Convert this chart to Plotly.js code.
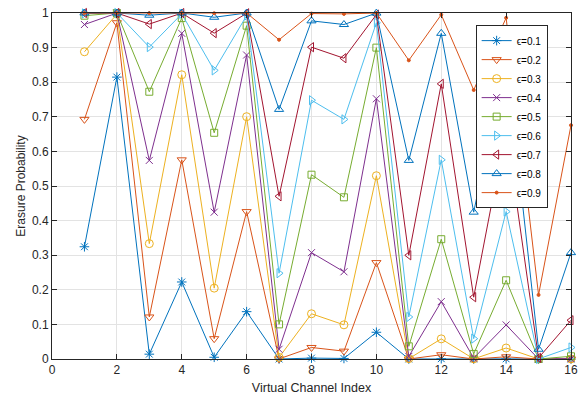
<!DOCTYPE html>
<html><head><meta charset="utf-8">
<script src="https://cdn.plot.ly/plotly-3.0.1.min.js"></script>
<style>html,body{margin:0;padding:0;background:#fff}#chart{width:581px;height:401px}</style>
</head><body><div id="chart"></div>
<script>
const channelIndex = [1,2,3,4,5,6,7,8,9,10,11,12,13,14,15,16];
const epsLabels = ["ϵ=0.1","ϵ=0.2","ϵ=0.3","ϵ=0.4","ϵ=0.5","ϵ=0.6","ϵ=0.7","ϵ=0.8","ϵ=0.9"];
const eps01 = [0.3244,0.8147,0.0140,0.2226,0.0050,0.1368,0.0000,0.0026,0.0016,0.0773,0.0000,0.0008,0.0000,0.0004,0.0000,0.0000];
const eps02 = [0.6926,0.9719,0.1215,0.5756,0.0588,0.4260,0.0003,0.0333,0.0227,0.2786,0.0000,0.0123,0.0000,0.0064,0.0000,0.0000];
const eps03 = [0.8880,0.9967,0.3334,0.8215,0.2048,0.7003,0.0046,0.1307,0.0988,0.5297,0.0009,0.0582,0.0003,0.0318,0.0000,0.0001];
const eps04 = [0.9667,0.9997,0.5740,0.9412,0.4244,0.8785,0.0281,0.3074,0.2521,0.7521,0.0075,0.1658,0.0026,0.0985,0.0000,0.0013];
const eps05 = [0.9922,1.0000,0.7725,0.9853,0.6538,0.9634,0.1001,0.5327,0.4673,0.8999,0.0366,0.3462,0.0147,0.2275,0.0000,0.0078];
const eps06 = [0.9987,1.0000,0.9015,0.9974,0.8342,0.9925,0.2479,0.7479,0.6926,0.9719,0.1215,0.5756,0.0588,0.4260,0.0003,0.0333];
const eps07 = [0.9999,1.0000,0.9680,0.9997,0.9418,0.9991,0.4703,0.9012,0.8693,0.9954,0.2997,0.7952,0.1786,0.6666,0.0033,0.1120];
const eps08 = [1.0000,1.0000,0.9936,1.0000,0.9877,1.0000,0.7214,0.9773,0.9667,0.9997,0.5740,0.9412,0.4244,0.8785,0.0281,0.3074];
const eps09 = [1.0000,1.0000,0.9996,1.0000,0.9992,1.0000,0.9227,0.9984,0.9974,1.0000,0.8632,0.9950,0.7775,0.9860,0.1853,0.6756];
const xTicks = [0,2,4,6,8,10,12,14,16];
const yTicks = [0,0.1,0.2,0.3,0.4,0.5,0.6,0.7,0.8,0.9,1];

const series = [eps01,eps02,eps03,eps04,eps05,eps06,eps07,eps08,eps09];
const colors = ["#0072BD","#D95319","#EDB120","#7E2F8E","#77AC30","#4DBEEE","#A2142F","#0072BD","#D95319"];
const symbols = ["asterisk-open","triangle-down-open","circle-open","x-thin-open","square-open","triangle-right-open","triangle-left-open","triangle-up-open","circle"];
const sizes = [8,8,8,7,7,8,8,8,3];

const traces = series.map((ys,i)=>({
  x: channelIndex, y: ys, name: epsLabels[i], type:"scatter", mode:"lines+markers",
  line:{color:colors[i], width:1},
  marker:{symbol:symbols[i], size:sizes[i], color:colors[i], line:{color:colors[i], width:1}},
  cliponaxis:false
}));

const FONT = "Liberation Sans, Arial, sans-serif";
const axisCommon = {
  showline:true, linecolor:"#262626", linewidth:1, mirror:"ticks",
  ticks:"inside", ticklen:5, tickcolor:"#262626",
  showgrid:true, gridcolor:"#e3e3e3", gridwidth:1, zeroline:false,
  tickfont:{family:FONT, size:12, color:"#262626"}
};

const layout = {
  width:581, height:401,
  margin:{l:52, r:10, t:13, b:42},
  paper_bgcolor:"#fff", plot_bgcolor:"#fff",
  showlegend:true,
  legend:{x:0.955, y:0.965, xanchor:"right", yanchor:"top",
    bgcolor:"#fff", bordercolor:"#262626", borderwidth:1,
    font:{family:FONT, size:10, color:"#000"},
    tracegroupgap:0, itemwidth:30},
  xaxis: Object.assign({}, axisCommon, {range:[0,16], tickvals:xTicks, ticktext:xTicks.map(String),
    title:{text:"Virtual Channel Index", font:{family:FONT, size:12.5, color:"#262626"}, standoff:6}}),
  yaxis: Object.assign({}, axisCommon, {range:[0,1], tickvals:yTicks, ticktext:yTicks.map(v=>String(v)),
    title:{text:"Erasure Probability", font:{family:FONT, size:12, color:"#262626"}, standoff:3}})
};

Plotly.newPlot("chart", traces, layout, {displayModeBar:false, staticPlot:true});
</script></body></html>
